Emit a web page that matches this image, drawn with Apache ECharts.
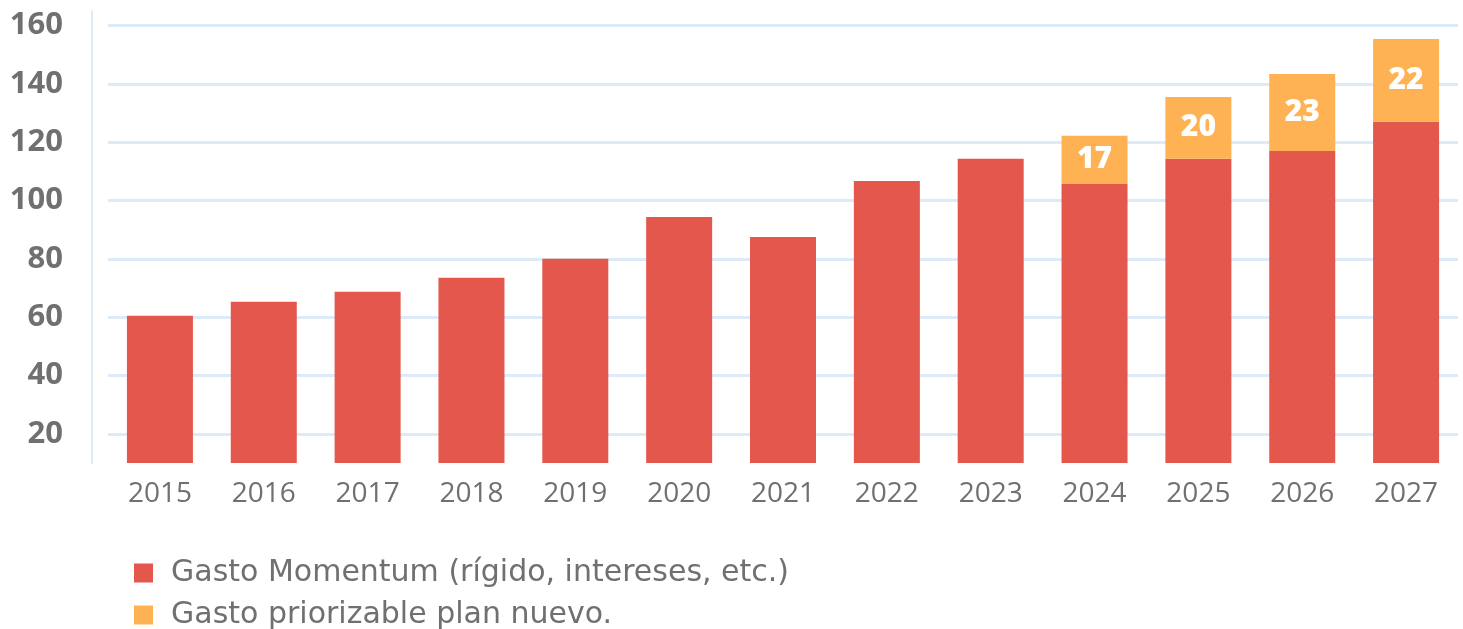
<!DOCTYPE html>
<html>
<head>
<meta charset="utf-8">
<script src="https://cdn.jsdelivr.net/npm/echarts@6/dist/echarts.min.js"></script>
<style>
  html, body { margin: 0; padding: 0; background: #fff; }
  #main { width: 1463px; height: 629px; }
</style>
</head>
<body>
<div id="main"></div>
<script>
const years = ['2015', '2016', '2017', '2018', '2019', '2020', '2021', '2022', '2023', '2024', '2025', '2026', '2027']
// gasto momentum (rojo)
const momentum = [60.5, 65.3, 68.7, 73.5, 80, 94.4, 87.5, 106.7, 114.3, 105.7, 114.3, 117, 127]
// gasto priorizable (naranja), alto de la barra
const priorizable = [null, null, null, null, null, null, null, null, null, 16.5, 21.2, 26.4, 28.4]
// etiquetas escritas en las barras naranjas
const priorLabels = [null, null, null, null, null, null, null, null, null, 17, 20, 23, 22]
const yTicks = [20, 40, 60, 80, 100, 120, 140, 160]

const myChart = echarts.init(document.getElementById('main'))
myChart.setOption({
  animation: false,
  textStyle: { fontFamily: 'Open Sans' },
  grid: { left: 108, right: 5, top: 11, bottom: 166 },
  legend: {
    orient: 'vertical',
    left: 129,
    top: 553,
    height: 100,
    itemWidth: 19,
    itemHeight: 19,
    itemGap: 12,
    icon: 'rect',
    textStyle: { fontSize: 30, fontFamily: 'DejaVu Sans', color: '#707070', lineHeight: 30, padding: [0, 0, 0, 13] },
    data: ['Gasto Momentum (rígido, intereses, etc.)', 'Gasto priorizable plan nuevo.']
  },
  xAxis: {
    type: 'category',
    data: years,
    axisLine: { show: false },
    axisTick: { show: false },
    axisLabel: { fontSize: 28, color: '#707070', margin: 17 }
  },
  yAxis: {
    type: 'value',
    min: 10,
    max: 165,
    offset: 16,
    axisLine: { show: true, lineStyle: { color: '#ddebf8', width: 2 } },
    axisTick: { show: false, customValues: yTicks },
    axisLabel: { fontSize: 31, fontWeight: 'bold', color: '#707070', margin: 29, customValues: yTicks },
    splitLine: { lineStyle: { color: '#ddebf8', width: 3 } }
  },
  series: [
    {
      name: 'Gasto Momentum (rígido, intereses, etc.)',
      type: 'bar',
      stack: 'total',
      barWidth: 66,
      itemStyle: { color: '#e3574c' },
      data: momentum
    },
    {
      name: 'Gasto priorizable plan nuevo.',
      type: 'bar',
      stack: 'total',
      barWidth: 66,
      itemStyle: { color: '#ffb253' },
      label: {
        show: true,
        position: 'inside',
        color: '#fff',
        fontSize: 30,
        fontWeight: 900,
        formatter: function (p) { return priorLabels[p.dataIndex] }
      },
      data: priorizable
    }
  ]
})
</script>
</body>
</html>
